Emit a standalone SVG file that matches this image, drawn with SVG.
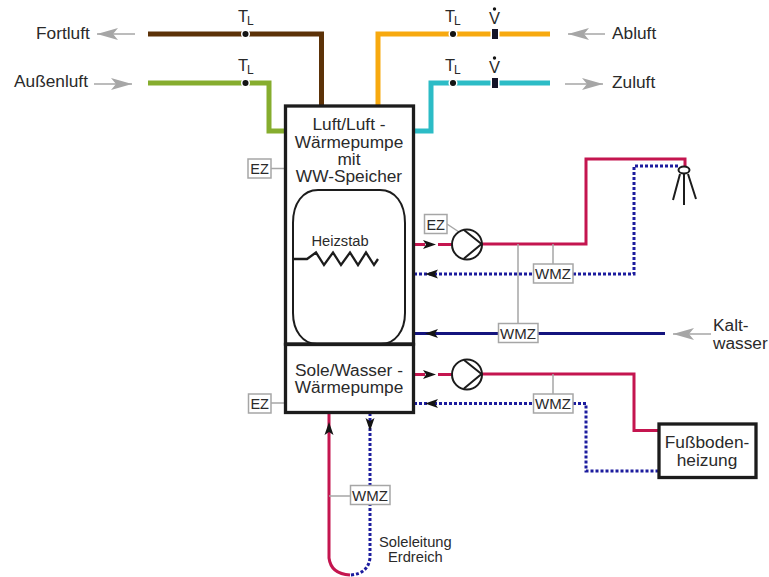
<svg xmlns="http://www.w3.org/2000/svg" width="769" height="577" viewBox="0 0 769 577">
<style>
text{font-family:"Liberation Sans",Arial,sans-serif;fill:#2a2a2a;font-size:17.300px}
.m{text-anchor:middle}
.s15{font-size:15px}
.sm{font-size:14.700px}
.ez{font-size:14.500px}
.t{font-size:16.500px}
.l{font-size:12px}
.air{fill:none;stroke-width:5}
.red{fill:none;stroke:#c4154f;stroke-width:3}
.dot{fill:none;stroke:#1c1c9e;stroke-width:3;stroke-dasharray:3 2}
.cold{fill:none;stroke:#14147e;stroke-width:3}
.g{fill:none;stroke:#a6a6a6;stroke-width:1.500}
.box{fill:#fff;stroke:#a6a6a6;stroke-width:1.500}
.big{fill:#fff;stroke:#1c1c1c;stroke-width:3.300}
.flow{fill:none;stroke:#a6a6a6;stroke-width:1.500;marker-end:url(#ga)}
.sd{fill:#141428}
.blk{fill:none;stroke:#1c1c1c;stroke-width:2}
.pt{fill:#141414;stroke:#fff;stroke-width:1.500}
</style>
<defs>
<marker id="ga" markerUnits="userSpaceOnUse" markerWidth="22" markerHeight="14" refX="21" refY="6" orient="auto"><path d="M0,0 L21,6 L0,12 L5,6Z" fill="#a6a6a6"/></marker>
<path id="ba" d="M-13,-4.500 L0,0 L-13,4.500 L-10,0Z" fill="#141414"/>
</defs>
<g id="connectors">
<path class="air" stroke="#5c3208" d="M148,34H321.500V106"/>
<path class="air" stroke="#86ad2e" d="M148,83H269V131H285"/>
<path class="air" stroke="#f7a90f" d="M550,34H378V106"/>
<path class="air" stroke="#2cbcc6" d="M550,83H431V131H414"/>
<path class="flow" d="M135,34H97"/>
<path class="flow" d="M94,84H132"/>
<path class="flow" d="M605,34H568"/>
<path class="flow" d="M565,84H603"/>
<path class="flow" d="M711,334H673"/>
<path class="red" d="M414,244.500H425M438,244.500H452M482,244H586V159H685V167"/>
<path class="dot" d="M414,274H533M573,274H634V166H680"/>
<path class="cold" d="M414,333.500H498M538,333.500H665"/>
<path class="red" d="M414,374.500H425M438,374.500H452M482,374H634V430.500H658"/>
<path class="dot" d="M414,403.500H533M573,403.500H586V471H658"/>
<path class="red" d="M329,413V558Q331,574 350,575"/>
<path class="dot" d="M370,413V558Q368,574 350,575"/>
<path class="g" d="M553,244V264M518,244V323M553,374V394M329,496H350M271,168.500H285M271,403H285M447,224L459,232"/>
<use href="#ba" transform="translate(436,244.500)"/>
<use href="#ba" transform="translate(425,274) rotate(180)"/>
<use href="#ba" transform="translate(425,333.500) rotate(180)"/>
<use href="#ba" transform="translate(436,374.500)"/>
<use href="#ba" transform="translate(425,403.500) rotate(180)"/>
<use href="#ba" transform="translate(329,422) rotate(-90)"/>
<use href="#ba" transform="translate(370,431) rotate(90)"/>
</g>
<g id="labels">
<text x="36" y="39">Fortluft</text>
<text x="14" y="87">Außenluft</text>
<text x="612" y="39">Abluft</text>
<text x="612" y="88">Zuluft</text>
<text x="713" y="331">Kalt-</text>
<text x="713" y="349">wasser</text>
<text class="sm" x="379" y="547">Soleleitung</text>
<text class="sm" x="388" y="562">Erdreich</text>
</g>
<g id="sensor-t1"><circle class="pt" cx="245.500" cy="34" r="3.800"/><text class="t" x="238" y="21.500">T</text><text class="l" x="247" y="25">L</text></g>
<g id="sensor-t2"><circle class="pt" cx="245.500" cy="83" r="3.800"/><text class="t" x="238" y="70.500">T</text><text class="l" x="247" y="74">L</text></g>
<g id="sensor-t3"><circle class="pt" cx="453" cy="34" r="3.800"/><text class="t" x="445" y="21.500">T</text><text class="l" x="454" y="25">L</text></g>
<g id="sensor-t4"><circle class="pt" cx="453" cy="83" r="3.800"/><text class="t" x="445" y="70.500">T</text><text class="l" x="454" y="74">L</text></g>
<g id="sensor-v1"><rect x="490.500" y="27" width="9" height="14" fill="#fff"/><rect class="sd" x="492" y="29" width="6" height="10"/><text class="m t" x="494.500" y="24">V</text><circle cx="494.500" cy="9" r="1.700" fill="#141414"/></g>
<g id="sensor-v2"><rect x="490.500" y="76" width="9" height="14" fill="#fff"/><rect class="sd" x="492" y="78" width="6" height="10"/><text class="m t" x="494.500" y="73">V</text><circle cx="494.500" cy="58" r="1.700" fill="#141414"/></g>
<g id="heatpump-air">
<rect class="big" x="285.500" y="106" width="128" height="238"/>
<text class="m" x="349" y="130">Luft/Luft -</text>
<text class="m" x="349" y="148">Wärmepumpe</text>
<text class="m" x="349" y="165">mit</text>
<text class="m" x="349" y="182">WW-Speicher</text>
</g>
<g id="tank">
<path d="M293,223V313C293,331 303,344 317,344H381C395,344 405,331 405,313V223C405,203 395,190 380,190H318C303,190 293,203 293,223Z" fill="none" stroke="#1c1c1c" stroke-width="2"/>
<text class="m sm" x="340" y="246">Heizstab</text>
<path d="M293,259H307L316,252.500L324,265L333,252.500L341,265L350,252.500L358,265L366,252.500L374,265L378,259" fill="none" stroke="#1c1c1c" stroke-width="2.300"/>
</g>
<g id="heatpump-brine">
<rect class="big" x="285.500" y="344.500" width="128" height="68"/>
<text class="m" x="349" y="376">Sole/Wasser -</text>
<text class="m" x="349" y="393">Wärmepumpe</text>
</g>
<g id="floor-heating">
<rect class="big" x="659" y="424" width="97" height="53.500"/>
<text class="m" x="707" y="448">Fußboden-</text>
<text class="m" x="707" y="466">heizung</text>
</g>
<g id="pump-1"><circle cx="467" cy="244.500" r="15" fill="#fff" stroke="#1c1c1c" stroke-width="2"/><path class="blk" d="M464,230L481.500,244L464,258.500"/></g>
<g id="pump-2"><circle cx="467" cy="374.500" r="15" fill="#fff" stroke="#1c1c1c" stroke-width="2"/><path class="blk" d="M464,360L481.500,374L464,388.500"/></g>
<g id="shower"><ellipse cx="684" cy="170" rx="5.500" ry="3.500" fill="#fff" stroke="#1c1c1c" stroke-width="2"/><path class="blk" d="M680,174L673,200M684,174V205M688,174L696,199"/></g>
<g id="ez-1"><rect class="box" x="248" y="159" width="23" height="19"/><text class="m ez" x="259.500" y="174">EZ</text></g>
<g id="ez-2"><rect class="box" x="424.500" y="214.500" width="22.500" height="19"/><text class="m ez" x="435.700" y="229.500">EZ</text></g>
<g id="ez-3"><rect class="box" x="248.500" y="394" width="22.500" height="19"/><text class="m ez" x="259.700" y="409">EZ</text></g>
<g id="wmz-1"><rect class="box" x="533.500" y="264" width="39.500" height="19"/><text class="m s15" x="553" y="279">WMZ</text></g>
<g id="wmz-2"><rect class="box" x="498.500" y="323.500" width="39.500" height="19"/><text class="m s15" x="518" y="339">WMZ</text></g>
<g id="wmz-3"><rect class="box" x="533.500" y="394" width="39.500" height="19"/><text class="m s15" x="553" y="409">WMZ</text></g>
<g id="wmz-4"><rect class="box" x="350.500" y="485.500" width="39.500" height="19"/><text class="m s15" x="370" y="501">WMZ</text></g>
</svg>
